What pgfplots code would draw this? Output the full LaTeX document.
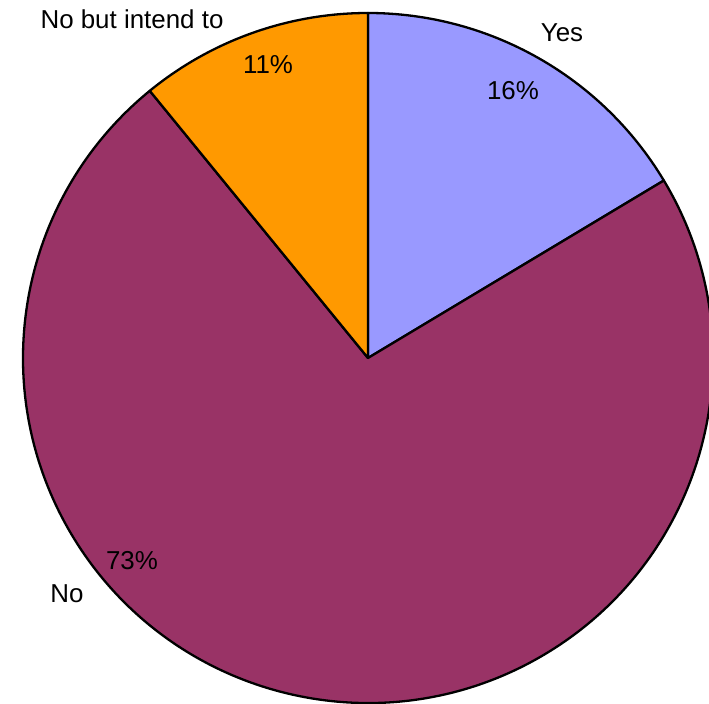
\documentclass[border=0pt]{standalone}
\usepackage{pgfplots}
\pgfplotsset{compat=1.18}
\usepackage{pgfplotstable}
\usepackage{fontspec}
\setmainfont{Liberation Sans}
\definecolor{yescol}{HTML}{9999FF}
\definecolor{nocol}{HTML}{993366}
\definecolor{intcol}{HTML}{FF9900}

\pgfplotstableread{
label value
Yes 16.4
No 72.7
Intend 10.9
}\piedata

\pgfplotstablegetelem{0}{value}\of\piedata \let\vYes\pgfplotsretval
\pgfplotstablegetelem{1}{value}\of\piedata \let\vNo\pgfplotsretval
\pgfplotstablegetelem{2}{value}\of\piedata \let\vInt\pgfplotsretval
\pgfmathsetmacro{\aA}{90}
\pgfmathsetmacro{\aB}{90-3.6*\vYes}
\pgfmathsetmacro{\aC}{\aB-3.6*\vNo}
\pgfmathsetmacro{\aD}{\aC-3.6*\vInt}

\begin{document}
\begin{tikzpicture}
\useasboundingbox (0,0) rectangle (709bp,704bp);
\begin{axis}[
  at={(0,0)}, anchor=south west,
  scale only axis, width=709bp, height=704bp,
  xmin=0, xmax=709, ymin=0, ymax=704,
  hide axis, clip=true,
]
\addplot[draw=none] coordinates {(0,0) (709,704)};
\filldraw[fill=yescol, draw=black, line width=2.3bp, line join=round]
  (axis cs:368,346) -- ++(\aA:345bp) arc[start angle=\aA, end angle=\aB, radius=345bp] -- cycle;
\filldraw[fill=nocol, draw=black, line width=2.3bp, line join=round]
  (axis cs:368,346) -- ++(\aB:345bp) arc[start angle=\aB, end angle=\aC, radius=345bp] -- cycle;
\filldraw[fill=intcol, draw=black, line width=2.3bp, line join=round]
  (axis cs:368,346) -- ++(\aC:345bp) arc[start angle=\aC, end angle=\aD, radius=345bp] -- cycle;

\node[anchor=base, inner sep=0pt, font=\fontsize{26}{30}\selectfont] at (axis cs:132,675) {No but intend to};
\node[anchor=base, inner sep=0pt, font=\fontsize{26}{30}\selectfont] at (axis cs:268,630) {11\%};
\node[anchor=base, inner sep=0pt, font=\fontsize{26}{30}\selectfont] at (axis cs:562,662) {Yes};
\node[anchor=base, inner sep=0pt, font=\fontsize{26}{30}\selectfont] at (axis cs:513,604) {16\%};
\node[anchor=base, inner sep=0pt, font=\fontsize{26}{30}\selectfont] at (axis cs:132,134) {73\%};
\node[anchor=base, inner sep=0pt, font=\fontsize{26}{30}\selectfont] at (axis cs:67,101) {No};
\end{axis}
\end{tikzpicture}
\end{document}
